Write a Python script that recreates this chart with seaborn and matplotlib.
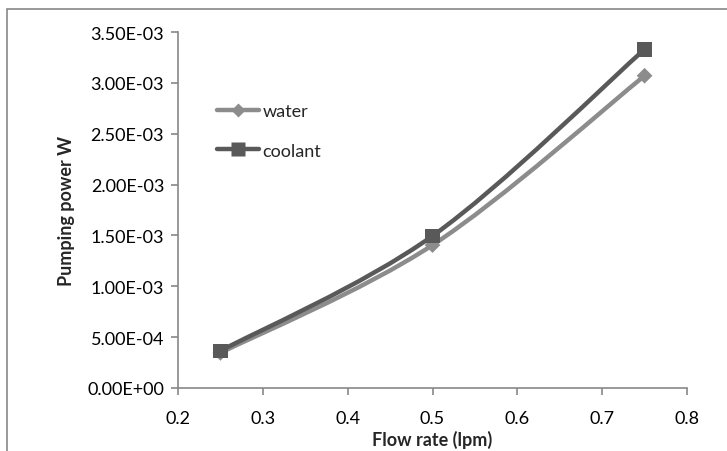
import numpy as np
import pandas as pd
import seaborn as sns
import matplotlib
matplotlib.use("Agg")
import matplotlib.pyplot as plt
from matplotlib.path import Path
from matplotlib.patches import PathPatch, Rectangle
from matplotlib.lines import Line2D
from matplotlib.ticker import FuncFormatter

flow_rate = [0.25, 0.5, 0.75]
water = [3.45e-4, 1.405e-3, 3.07e-3]
coolant = [3.65e-4, 1.495e-3, 3.33e-3]
series_names = ["water", "coolant"]
x_ticks = [0.2, 0.3, 0.4, 0.5, 0.6, 0.7, 0.8]
y_ticks = [0, 5e-4, 1e-3, 1.5e-3, 2e-3, 2.5e-3, 3e-3, 3.5e-3]

colors = {"water": "#8c8c8c", "coolant": "#595959"}
markers = {"water": "D", "coolant": "s"}
msizes = {"water": 8, "coolant": 10.5}

df = pd.DataFrame({
    "flow": flow_rate * 2,
    "power": water + coolant,
    "series": ["water"] * len(flow_rate) + ["coolant"] * len(flow_rate),
})

sns.set_style("white")
plt.rcParams["font.family"] = ["Lato", "DejaVu Sans"]
FS = 13

fig = plt.figure(figsize=(7.27, 4.52), dpi=100)
W, H = 727, 452
ax = fig.add_axes([178 / W, 1 - 389 / H, (687 - 178) / W, (389 - 33) / H])

# outer chart frame (cropped at right/bottom)
fig.patches.append(Rectangle((7 / W, -0.1), 1.2, 1 - 10 / H + 0.1, transform=fig.transFigure,
                             fill=False, edgecolor="#888888", linewidth=1.2, zorder=0))


def smooth_path(xs, ys):
    pts = np.column_stack([xs, ys])
    n = len(pts)
    verts = [pts[0]]
    codes = [Path.MOVETO]
    for i in range(n - 1):
        p0 = pts[i - 1] if i > 0 else pts[i]
        p1 = pts[i]
        p2 = pts[i + 1]
        p3 = pts[i + 2] if i + 2 < n else pts[i + 1]
        c1 = p1 + (p2 - p0) / 6.0
        c2 = p2 - (p3 - p1) / 6.0
        verts += [c1, c2, p2]
        codes += [Path.CURVE4] * 3
    return Path(verts, codes)


for name in series_names:
    sub = df[df["series"] == name]
    ax.add_patch(PathPatch(smooth_path(sub["flow"].values, sub["power"].values),
                           fill=False, edgecolor=colors[name], linewidth=3.2,
                           capstyle="round", zorder=2 if name == "water" else 3))

sns.scatterplot(data=df, x="flow", y="power", hue="series", style="series",
                palette=colors, markers=markers, size="series", sizes={k: v ** 2 for k, v in msizes.items()},
                edgecolor="none", legend=False, ax=ax, zorder=4)

ax.set_xlim(0.2, 0.8)
ax.set_ylim(0, 3.5e-3)
ax.set_xticks(x_ticks)
ax.set_yticks(y_ticks)
ax.xaxis.set_major_formatter(FuncFormatter(lambda v, p: f"{v:.1f}"))
ax.yaxis.set_major_formatter(FuncFormatter(lambda v, p: f"{v:.2E}"))

for side in ["top", "right"]:
    ax.spines[side].set_visible(False)
for side in ["left", "bottom"]:
    ax.spines[side].set_color("#888888")
    ax.spines[side].set_linewidth(1.2)
ax.tick_params(axis="both", which="major", direction="out", length=5, width=1.2,
               color="#888888", labelsize=FS, labelcolor="black", left=True, bottom=True, pad=5)
ax.tick_params(axis="x", pad=11)
ax.set_xlabel("Flow rate (lpm)", fontsize=FS, fontweight="bold", labelpad=3)
ax.set_ylabel("Pumping power W", fontsize=FS, fontweight="bold", labelpad=9)

handles = [Line2D([0], [0], color=colors[n], linewidth=3.2, marker=markers[n],
                  markersize=msizes[n] * 0.9, markeredgecolor="none") for n in series_names]
leg = ax.legend(handles, series_names, loc="upper left", bbox_to_anchor=(0.077, 0.80),
                frameon=False, fontsize=FS, handlelength=2.3, handletextpad=0.2,
                labelspacing=1.3, borderaxespad=0, borderpad=0)

fig.savefig("out.png", dpi=100)
